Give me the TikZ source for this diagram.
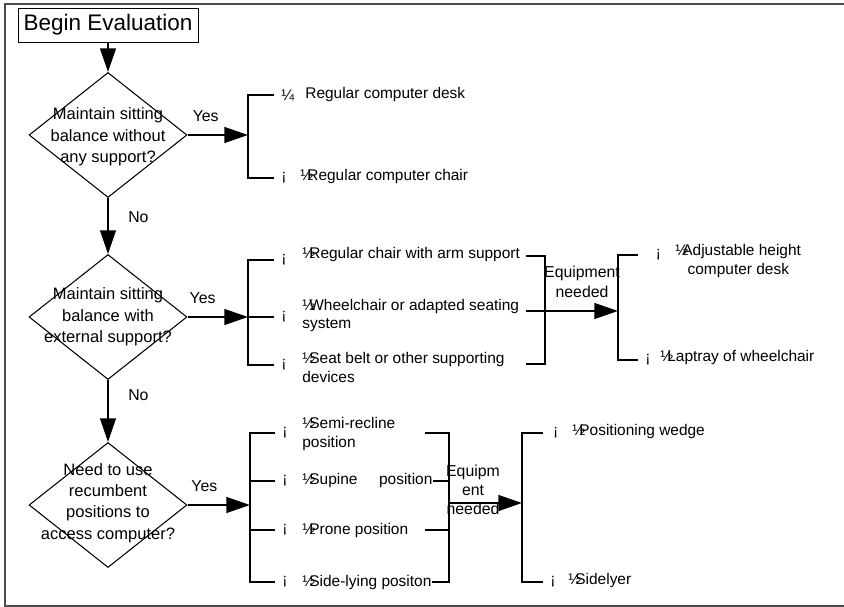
\documentclass[tikz,border=0pt]{standalone}
\usepackage{fontspec}
\setmainfont{Liberation Sans}
\usetikzlibrary{arrows.meta,shapes.geometric}
\newcommand{\hf}{½\kern-0.38em}
\tikzset{
  frame/.style    = {black!70, line width=0.9pt},
  startbox/.style = {draw, font=\fontsize{12.8}{15}\selectfont,
                     minimum width=3.6cm, minimum height=6.8mm, inner sep=2pt},
  decision/.style = {draw, diamond, minimum width=3.16cm, minimum height=2.5cm,
                     inner sep=0pt, line width=0.6pt},
  dtext/.style    = {align=center, inner sep=0pt, font=\fontsize{9.4}{12.2}\selectfont},
  itemtxt/.style  = {anchor=west, align=left, inner sep=0pt,
                     font=\fontsize{8.8}{10.8}\selectfont},
  bul/.style      = {anchor=west, inner xsep=4pt, inner ysep=0pt,
                     font=\fontsize{8.8}{10.8}\selectfont},
  lbl/.style      = {font=\fontsize{9}{11}\selectfont, inner sep=1pt},
  flowar/.style   = {-{Triangle[length=13.5pt,width=9pt]}, line width=1.1pt},
  brk/.style      = {line width=0.6pt}
}

\begin{document}
\begin{tikzpicture}[x=0.02cm,y=-0.02cm]
  \useasboundingbox (0,0) rectangle (844,607);
  \draw[frame] (846,4) -- (5,4) -- (5,606) -- (846,606);

  % main column
  \node[startbox] (start) at (108,25) {Begin Evaluation};
  \node[decision] (d1) at (108,135) {};
  \node[dtext] (d1t) at (108,137) {Maintain sitting\\balance without\\any support?};
  \node[decision] (d2) at (108,317) {};
  \node[dtext] (d2t) at (108,317) {Maintain sitting\\balance with\\external support?};
  \node[decision] (d3) at (108,505) {};
  \node[dtext] (d3t) at (108,503) {Need to use\\recumbent\\positions to\\access computer?};

  \coordinate (b1) at (248,135);
  \coordinate (b2) at (248,317);
  \coordinate (b4) at (250,505);

  \draw[flowar] (start) -- (d1);
  \draw[flowar] (d1) -- (d2) node[lbl, pos=0.35, right=10pt] {No};
  \draw[flowar] (d2) -- (d3) node[lbl, pos=0.25, right=10pt] {No};
  \draw[flowar] (d1) -- (b1) node[lbl, pos=0.3, above=6pt] {Yes};
  \draw[flowar] (d2) -- (b2) node[lbl, pos=0.25, above=6pt] {Yes};
  \draw[flowar] (d3) -- (b4) node[lbl, pos=0.27, above=6pt] {Yes};

  % sitting without support
  \node[bul] (r11b) at (274,95) {¼};
  \node[itemtxt] (r11) at (305,95) {Regular computer desk};
  \node[bul] (r12b) at (274,178) {¡};
  \node[itemtxt] (r12) at (300,177) {\hf Regular computer chair};
  \draw[brk] (r11b) -| (b1) |- (r12b);

  % sitting with external support
  \node[bul] (r21b) at (274,260) {¡};
  \node[itemtxt] (r21) at (302,255) {\hf Regular chair with arm support};
  \node[bul] (r22b) at (274,317) {¡};
  \node[itemtxt] (r22) at (302,315.5) {\hf Wheelchair or adapted seating\\system};
  \node[bul] (r23b) at (274,365) {¡};
  \node[itemtxt] (r23) at (302,367.5) {\hf Seat belt or other supporting\\devices};
  \draw[brk] (r21b) -| (b2) |- (r23b);
  \draw[brk] (b2) -- (r22b);

  \coordinate (e21) at (526,256);
  \coordinate (e22) at (526,311);
  \coordinate (e23) at (526,364);
  \coordinate (q2) at (545,311);
  \coordinate (b3) at (618,311);
  \draw[brk] (e21) -| (q2) |- (e23);
  \draw[brk] (e22) -- (q2);
  \node[lbl, align=center] (eq2) at (582,282) {Equipment\\needed};
  \draw[flowar] (q2) -- (b3);

  \node[bul, inner xsep=10pt] (r31b) at (638,255) {¡};
  \node[itemtxt] (r31) at (675,261) {\hf Adjustable height\\\hspace*{7pt}computer desk};
  \node[bul] (r32b) at (638,360) {¡};
  \node[itemtxt] (r32) at (660,358) {\hf Laptray of wheelchair};
  \draw[brk] (r31b) -| (b3) |- (r32b);

  % recumbent positions
  \node[bul] (r41b) at (275,433) {¡};
  \node[itemtxt] (r41) at (302,434) {\hf Semi-recline\\position};
  \node[bul] (r42b) at (275,481) {¡};
  \node[itemtxt] (r42) at (302,481) {\hf Supine\hspace{1.4em}position};
  \node[bul] (r43b) at (275,530) {¡};
  \node[itemtxt] (r43) at (302,530) {\hf Prone position};
  \node[bul] (r44b) at (275,582) {¡};
  \node[itemtxt] (r44) at (302,582) {\hf Side-lying positon};
  \draw[brk] (r41b) -| (b4) |- (r44b);
  \draw[brk] (r42b) -- (r42b -| b4);
  \draw[brk] (r43b) -- (r43b -| b4);

  \coordinate (e41) at (425,433);
  \coordinate (e43) at (425,530);
  \coordinate (q4) at (449,503);
  \coordinate (b5) at (522,503);
  \draw[brk] (e41) -| (q4) |- (r44);
  \draw[brk] (r42) -- (r42 -| q4);
  \draw[brk] (e43) -- (e43 -| q4);
  \node[lbl, align=center] (eq4) at (473,490) {Equipm\\ent\\needed};
  \draw[flowar] (q4) -- (b5);

  \node[bul, inner xsep=5.5pt] (r51b) at (543,433) {¡};
  \node[itemtxt] (r51) at (572,432) {\hf Positioning wedge};
  \node[bul] (r52b) at (543,582) {¡};
  \node[itemtxt] (r52) at (568,580) {\hf Sidelyer};
  \draw[brk] (r51b) -| (b5) |- (r52b);
\end{tikzpicture}
\end{document}
